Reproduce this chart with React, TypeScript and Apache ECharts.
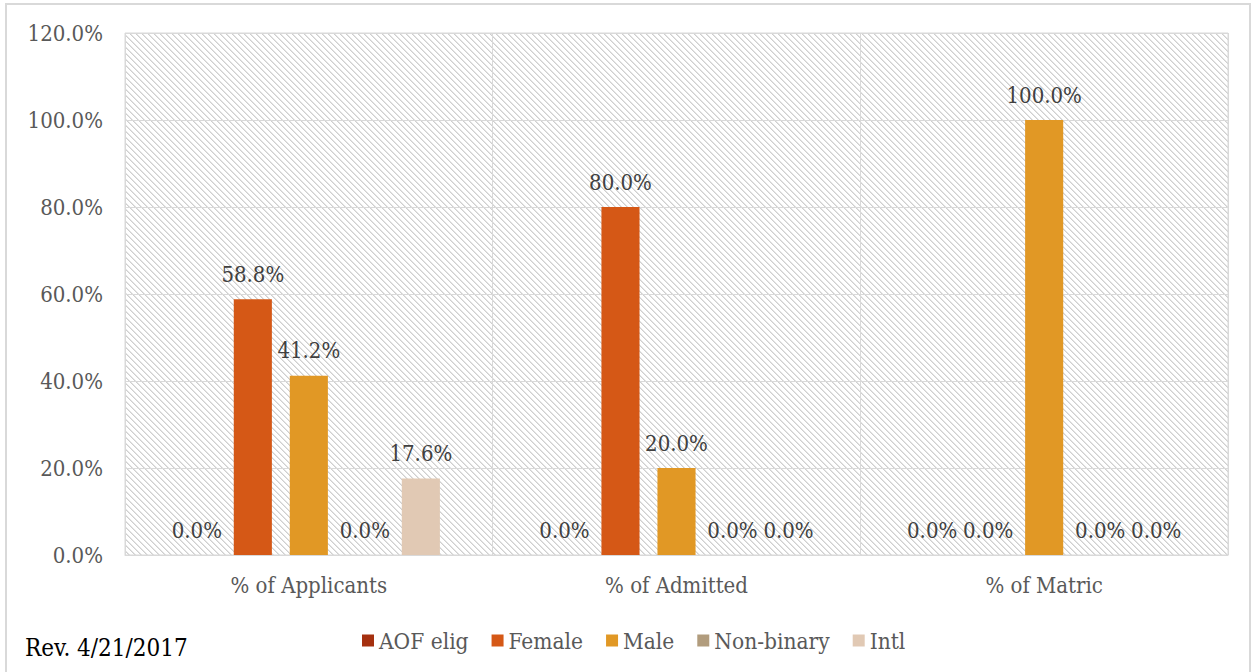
import React, { useEffect, useRef } from "react";
import * as echarts from "echarts";

const categories = ["% of Applicants", "% of Admitted", "% of Matric"];
const seriesNames = ["AOF elig", "Female", "Male", "Non-binary", "Intl"];
const aofElig = [0, 0, 0];
const female = [58.8, 80.0, 0];
const male = [41.2, 20.0, 100.0];
const nonBinary = [0, 0, 0];
const intl = [17.6, 0, 0];
const colors = ["#A5300F", "#D55816", "#E19825", "#B19C7D", "#E1C9B4"];
const yTicks = [0, 20, 40, 60, 80, 100, 120];

const FONT = "'DejaVu Serif Condensed', 'Liberation Serif', serif";

function makePattern(): string {
  const c = document.createElement("canvas");
  c.width = 6;
  c.height = 6;
  const ctx = c.getContext("2d")!;
  ctx.fillStyle = "#ffffff";
  ctx.fillRect(0, 0, 6, 6);
  for (let i = 0; i < 6; i++) {
    ctx.fillStyle = "#cfcfcf";
    ctx.fillRect(i, i, 1, 1);
    ctx.fillStyle = "#e4e4e4";
    ctx.fillRect((i + 1) % 6, i, 1, 1);
  }
  return c.toDataURL();
}

export default function App() {
  const ref = useRef<HTMLDivElement>(null);
  useEffect(() => {
    if (!ref.current) return;
    const chart = echarts.init(ref.current, undefined, { renderer: "svg" });
    const data = [aofElig, female, male, nonBinary, intl];
    const pattern = makePattern();
    chart.setOption({
      animation: false,
      backgroundColor: "#ffffff",
      textStyle: { fontFamily: FONT },
      grid: {
        left: 125,
        right: 24,
        top: 33,
        bottom: 117,
        show: true,
        backgroundColor: { image: pattern, repeat: "repeat" },
        borderColor: "#d9d9d9",
        borderWidth: 1,
      },
      legend: {
        data: seriesNames,
        left: 357,
        top: 624,
        icon: "rect",
        itemWidth: 12,
        itemHeight: 12,
        itemGap: 23,
        textStyle: { fontFamily: FONT, fontSize: 22.5, color: "#595959" },
      },
      xAxis: {
        type: "category",
        data: categories,
        axisLine: { lineStyle: { color: "#d9d9d9", width: 1 } },
        axisTick: { show: false },
        splitLine: { show: true, lineStyle: { color: "#d9d9d9", width: 1 } },
        axisLabel: { fontFamily: FONT, fontSize: 22, color: "#595959", margin: 19 },
      },
      yAxis: {
        type: "value",
        min: 0,
        max: 120,
        interval: 20,
        axisLine: { show: false },
        axisTick: { show: false },
        splitLine: { lineStyle: { color: "#d9d9d9", width: 1 } },
        axisLabel: {
          fontFamily: FONT,
          fontSize: 22,
          color: "#595959",
          margin: 22,
          formatter: (v: number) => (yTicks.includes(v) ? v.toFixed(1) + "%" : ""),
        },
      },
      series: seriesNames.map((name, i) => ({
        name,
        type: "bar",
        data: data[i],
        itemStyle: { color: colors[i] },
        barGap: "47%",
        barCategoryGap: "28.7%",
        label: {
          show: true,
          position: "top",
          distance: 14,
          fontFamily: FONT,
          fontSize: 22,
          color: "#404040",
          formatter: (p: any) => Number(p.value).toFixed(1) + "%",
        },
      })),
      graphic: [
        {
          type: "rect",
          shape: { x: 6, y: 4, width: 1244, height: 680 },
          style: { fill: "none", stroke: "#d9d9d9", lineWidth: 2 },
          silent: true,
        },
        {
          type: "text",
          left: 25,
          top: 636,
          style: { text: "Rev. 4/21/2017", fontFamily: FONT, fontSize: 24, fill: "#000000" },
        },
      ],
    });
    return () => chart.dispose();
  }, []);
  return (
    <div
      ref={ref}
      style={{ position: "absolute", left: 0, top: 0, width: 1252, height: 672 }}
    />
  );
}
